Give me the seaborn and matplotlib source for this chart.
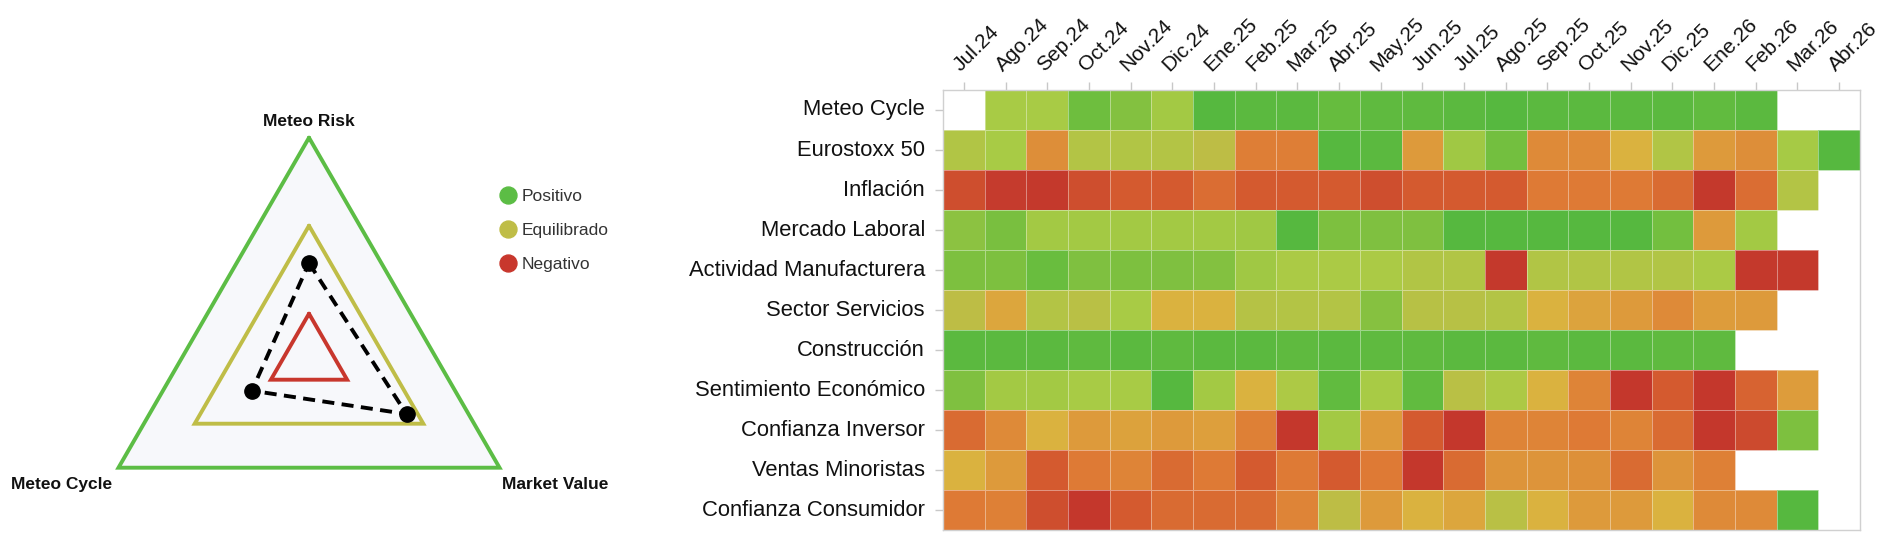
import numpy as np
import pandas as pd
import matplotlib
matplotlib.use("Agg")
import matplotlib.pyplot as plt
import seaborn as sns
from matplotlib.colors import LinearSegmentedColormap
from matplotlib.lines import Line2D

# ---------------- data ----------------
months = ["Jul.24", "Ago.24", "Sep.24", "Oct.24", "Nov.24", "Dic.24", "Ene.25", "Feb.25",
          "Mar.25", "Abr.25", "May.25", "Jun.25", "Jul.25", "Ago.25", "Sep.25", "Oct.25",
          "Nov.25", "Dic.25", "Ene.26", "Feb.26", "Mar.26", "Abr.26"]

indicators = ["Meteo Cycle", "Eurostoxx 50", "Inflación", "Mercado Laboral",
              "Actividad Manufacturera", "Sector Servicios", "Construcción",
              "Sentimiento Económico", "Confianza Inversor", "Ventas Minoristas",
              "Confianza Consumidor"]

nan = np.nan
# score 0 (negative, red) .. 10 (positive, green)
meteo_cycle = [nan, 7, 7, 9, 8.3, 7.2, 10, 9.8, 9.8, 9.3, 9.6, 9.6, 9.8, 10, 9.8, 9.8, 9.8, 9.8, 9.5, 9.8, nan, nan]
eurostoxx = [6.6, 7, 3.6, 6.5, 6.6, 6.5, 6, 3.1, 3.1, 10, 9.8, 4, 7.3, 8.8, 3.5, 3.5, 5, 6.6, 4, 3.6, 7.1, 10]
inflacion = [1.5, 0.6, 0.5, 1.5, 2, 2, 2.6, 2, 2, 2, 1.5, 2, 2, 2, 3, 3, 3, 2.5, 0.5, 2.6, 6.5, nan]
mercado_laboral = [8, 8.6, 7.2, 7.2, 7.2, 7.2, 7.2, 7.3, 10, 8.5, 8.4, 8.4, 10, 10, 10, 10, 10, 8.8, 4, 7.2, nan, nan]
manufacturera = [8.5, 8.5, 9.2, 8.4, 8.5, 8.4, 8.3, 7.3, 6.9, 6.9, 6.9, 6.6, 6.6, 0.5, 6.6, 6.6, 6.6, 6.6, 6.9, 0.5, 0.5, nan]
servicios = [6, 4.5, 6.5, 6.2, 7, 5, 5, 6.4, 6.5, 6.5, 8.2, 6.3, 6.3, 6.5, 5, 4.4, 4, 3.5, 4.1, 4, nan, nan]
construccion = [9.8, 9.8, 9.8, 9.6, 9.8, 9.6, 9.8, 9.8, 9.6, 9.8, 9.6, 9.6, 9.8, 9.8, 9.6, 9.8, 9.8, 9.6, 9.6, nan, nan, nan]
sentimiento = [8.4, 7.2, 7.2, 7, 7, 10, 7.2, 5, 6.8, 9.5, 7, 9.5, 6.2, 6.8, 5, 3.3, 0.4, 2, 0.4, 2.3, 4.1, nan]
inversor = [2.5, 3.5, 5, 4, 4.3, 4, 4.2, 3.2, 0.4, 7.2, 4, 2, 0.4, 3.3, 3.3, 3, 3.3, 2.5, 0.4, 1.3, 8.5, nan]
minoristas = [5, 4, 2, 3, 3.3, 2.5, 3, 2, 3, 2, 3, 0.4, 2.5, 3.8, 3.8, 3.7, 2.5, 3.8, 3.2, nan, nan, nan]
consumidor = [3, 3.2, 1.5, 0.4, 2, 2.5, 2.5, 2.5, 3.3, 6, 4, 5, 4.5, 6.2, 5, 4, 4, 5, 3.5, 3.5, 10, nan]

radar_axes = ["Meteo Risk", "Market Value", "Meteo Cycle"]
radar_angles_deg = [90, -30, 210]
radar_values = [2.15, 2.56, 1.5]

level_names = ["Positivo", "Equilibrado", "Negativo"]
level_values = [5, 3, 1]
level_colors = ["#5cbd45", "#bfbd47", "#c8372d"]

# ---------------- style ----------------
sns.set_style("white")
plt.rcParams["font.family"] = ["Liberation Sans", "DejaVu Sans"]

W, H = 1893, 538
fig = plt.figure(figsize=(W / 100, H / 100), dpi=100)

# ---------------- left: triangular radar ----------------
ax1 = fig.add_axes([0, 0, 700 / W, 1])
px_per_unit = 44.0
cx, cy = 309, H - 357.7
ax1.set_xlim(-cx / px_per_unit, (700 - cx) / px_per_unit)
ax1.set_ylim(-cy / px_per_unit, (H - cy) / px_per_unit)
ax1.axis("off")

ang = np.deg2rad(radar_angles_deg)


def tri(r):
    r = np.asarray(r, dtype=float) * np.ones(len(ang))
    x = r * np.cos(ang)
    y = r * np.sin(ang)
    return np.append(x, x[0]), np.append(y, y[0])


ox, oy = tri(level_values[0])
ax1.fill(ox, oy, color="#f7f8fb", zorder=1)
for lv, col in zip(level_values, level_colors):
    x, y = tri(lv)
    ax1.plot(x, y, color=col, lw=2.8, zorder=2, solid_joinstyle="miter")

dx, dy = tri(radar_values)
ax1.plot(dx, dy, color="black", lw=2.8, ls=(0, (3.1, 1.9)), zorder=3)
ax1.plot(dx[:-1], dy[:-1], "o", color="black", ms=11, zorder=4)

vx, vy = tri(level_values[0])
offsets = [(0, 12), (40, -12), (-41, -12)]
for name, x, y, off in zip(radar_axes, vx[:-1], vy[:-1], offsets):
    ax1.annotate(name, (x, y), xytext=off, textcoords="offset points",
                 ha="center", va="center", fontsize=12.5, fontweight="bold", color="#111111")

handles = [Line2D([], [], ls="none", marker="o", ms=12.2, color=c, label=n)
           for n, c in zip(level_names, level_colors)]
fig.legend(handles=handles, loc="upper left", bbox_to_anchor=(482 / W, 1 - 173 / H),
           frameon=False, fontsize=12.5, handletextpad=0.2, labelspacing=1.1,
           labelcolor="#333333", handlelength=1.2, borderpad=0.4)

# ---------------- right: heatmap ----------------
df = pd.DataFrame([meteo_cycle, eurostoxx, inflacion, mercado_laboral, manufacturera,
                   servicios, construccion, sentimiento, inversor, minoristas, consumidor],
                  index=indicators, columns=months)

cmap = LinearSegmentedColormap.from_list("rg", [
    "#c1302b", "#c8432e", "#d45a2f", "#de7b35", "#dd9a3b", "#dbb23f",
    "#bdbd45", "#a9cb45", "#8cc241", "#6ebe3e", "#56b83f"])

hl, hr, ht, hb = 943, 1860, 90, 530
ax2 = fig.add_axes([hl / W, (H - hb) / H, (hr - hl) / W, (hb - ht) / H])
sns.heatmap(df, ax=ax2, cmap=cmap, vmin=0, vmax=10, cbar=False,
            linewidths=0.6, linecolor=(1, 1, 1, 0.4), square=False)
ax2.set_facecolor("white")
ax2.xaxis.tick_top()
ax2.set_xlabel("")
ax2.set_ylabel("")
ax2.set_xticklabels(months, rotation=45, ha="left", va="bottom",
                    rotation_mode="anchor", fontsize=15, color="#111111")
ax2.set_yticklabels(indicators, rotation=0, fontsize=15.8, color="#111111")
ax2.tick_params(axis="x", top=True, bottom=False, length=6, width=1, color="#c8c8c8", pad=5)
ax2.tick_params(axis="y", left=True, length=6, width=1, color="#c8c8c8", pad=7)
for s in ax2.spines.values():
    s.set_visible(True)
    s.set_color("#d0d0d0")
    s.set_linewidth(1)

fig.savefig("out.png", dpi=100, facecolor="white")
